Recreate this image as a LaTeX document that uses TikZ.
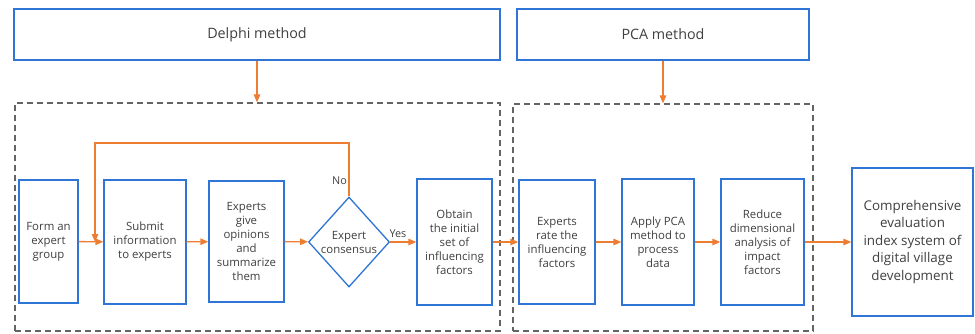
\documentclass[tikz,border=0pt]{standalone}
\usepackage{fontspec}
\setmainfont{Open Sans}
\usetikzlibrary{shapes.geometric, arrows.meta, positioning}

\definecolor{boxblue}{RGB}{46,117,214}
\definecolor{flow}{RGB}{237,125,49}
\definecolor{frame}{RGB}{100,100,100}
\definecolor{ink}{RGB}{64,64,64}

\begin{document}
\begin{tikzpicture}[
    x=1pt, y=-1pt,
    >={Triangle[length=8pt, width=6.5pt]},
    stage/.style={draw=boxblue, line width=1.3pt, fill=white, align=center, text=ink,
        inner sep=2pt, font=\fontsize{11.4}{14}\selectfont},
    method/.style={stage, font=\fontsize{14.3}{17}\selectfont},
    result/.style={stage, font=\fontsize{13.4}{17.5}\selectfont},
    decision/.style={stage, diamond, inner sep=0pt},
    group/.style={draw=frame, line width=1.2pt, dash pattern=on 6pt off 4pt},
    link/.style={->, draw=flow, line width=1.4pt},
    label_font/.style={text=ink, font=\fontsize{10.8}{13}\selectfont}
]
    \useasboundingbox (0,0) rectangle (975,333);

    % Method headers
    \node[method, minimum width=486pt, minimum height=51pt] (delphi) at (257,34.5) {Delphi method};
    \node[method, minimum width=292pt, minimum height=51pt] (pca) at (663,34.5) {PCA method};

    % Dashed frames round each stage group
    \node[group, minimum width=485pt, minimum height=228pt] (delphiframe) at (257.5,217) {};
    \node[group, minimum width=300pt, minimum height=227pt] (pcaframe) at (663,217.5) {};

    % Delphi steps
    \node[stage, minimum width=59pt, minimum height=123pt] (form) at (48.5,241.5) {Form an\\expert\\group};
    \node[stage, minimum width=82pt, minimum height=124pt] (submit) at (145,242) {Submit\\information\\to experts};
    \node[stage, minimum width=75pt, minimum height=121pt] (opinions) at (246.5,241.5) {Experts\\give\\opinions\\and\\summarize\\them};
    \node[decision, minimum width=81pt, minimum height=90pt] (check) at (349,242) {Expert\\consensus};
    \node[stage, minimum width=75pt, minimum height=126pt] (obtain) at (454.5,242) {Obtain\\the initial\\set of\\influencing\\factors};

    % PCA steps
    \node[stage, minimum width=76pt, minimum height=124pt] (rate) at (557,242) {Experts\\rate the\\influencing\\factors};
    \node[stage, minimum width=72pt, minimum height=126pt] (apply) at (658,242) {Apply PCA\\method to\\process\\data};
    \node[stage, minimum width=83pt, minimum height=126pt] (reduce) at (762.5,242) {Reduce\\dimensional\\analysis of\\impact\\factors};

    % Final result
    \node[result, minimum width=121pt, minimum height=148pt] (system) at (912.5,242) {Comprehensive\\evaluation\\index system of\\digital village\\development};

    % Headers feed their frames
    \draw[link] (delphi.south) -- (delphi.south |- delphiframe.north);
    \draw[link] (pca.south) -- (pca.south |- pcaframe.north);

    % Main flow
    \draw[link] (form) -- (submit);
    \draw[link] (submit) -- (opinions);
    \draw[link] (opinions) -- (check);
    \draw[link] (check) -- node[pos=0.3, above, label_font] {Yes} (obtain);
    \draw[link] (obtain) -- (rate);
    \draw[link] (rate) -- (apply);
    \draw[link] (apply) -- (reduce);
    \draw[link] (reduce) -- (system);

    % No consensus: back to the experts
    \coordinate (loop) at (95,143);
    \draw[link] (check.north) |- (loop) -- (loop |- submit.west);
    \node[label_font, left, inner sep=2pt] (no) at (349,181) {No};

\end{tikzpicture}
\end{document}
